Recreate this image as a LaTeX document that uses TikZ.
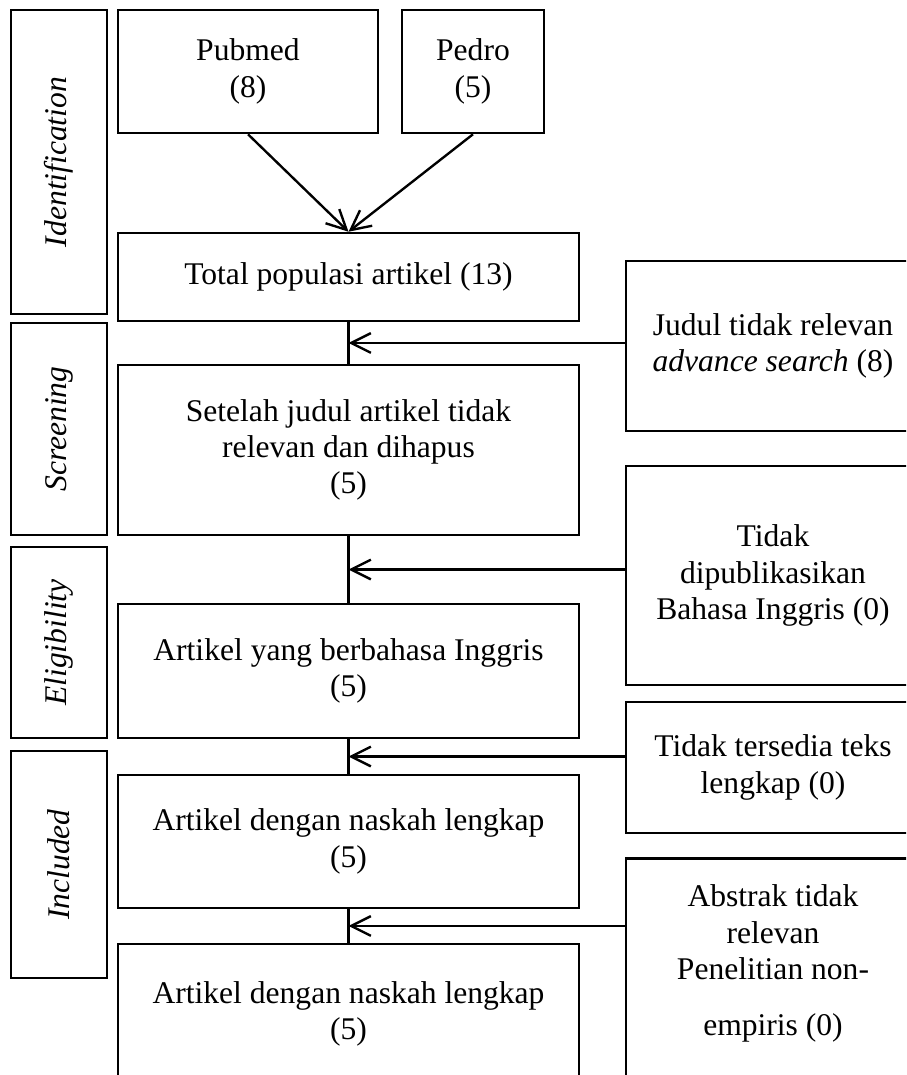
\documentclass[tikz,border=0pt]{standalone}
\usepackage{fontspec}
\setmainfont{Liberation Serif}
\usepackage{tikz}
\usetikzlibrary{arrows.meta,calc,positioning}
\tikzset{%
	stage/.style    = {draw, rectangle, line width=1pt, rotate=90, minimum height=36.5pt, font=\itshape\fontsize{12pt}{13.8pt}\selectfont}, % phase label
	source/.style   = {draw, rectangle, line width=1pt, minimum height=46.7pt, align=center}, % database
	process/.style  = {draw, rectangle, line width=1pt, minimum width=175.2pt, align=center}, % main flow
	excluded/.style = {draw, rectangle, line width=1pt, minimum width=111.7pt, align=center}, % removed
	link/.style     = {line width=0.9pt},
	arrow/.style    = {line width=0.9pt, -{Straight Barb[length=7.5pt, width=7.5pt]}},
}

\begin{document}
\begin{tikzpicture}[x=0.38pt, y=-0.38pt, every node/.style={font=\fontsize{12pt}{13.8pt}\selectfont}]
	\clip (0,0) rectangle (906,1075);
	% phases
	\node[stage, minimum width=115.5pt] (ident) at (59,162) {Identification};
	\node[stage, minimum width=80.6pt] (screen) at (59,429) {Screening};
	\node[stage, minimum width=72.6pt] (elig) at (59,642.5) {Eligibility};
	\node[stage, minimum width=86.3pt] (incl) at (59,864.5) {Included};
	
	% main column
	\node[source, minimum width=98.8pt] (pubmed) at (248,71.5) {Pubmed\\(8)};
	\node[source, minimum width=54pt] (pedro) at (473,71.5) {Pedro\\(5)};
	\node[process, minimum height=33.4pt] (total) at (348.5,277) {Total populasi artikel (13)};
	\node[process, minimum height=64.6pt] (setelah) at (348.5,450) {Setelah judul artikel tidak\\relevan dan dihapus\\(5)};
	\node[process, minimum height=50.9pt] (inggris) at (348.5,671) {Artikel yang berbahasa Inggris\\(5)};
	\node[process, minimum height=50.5pt] (naskah) at (348.5,841.5) {Artikel dengan naskah lengkap\\(5)};
	\node[process, minimum height=53.2pt] (akhir) at (348.5,1014) {Artikel dengan naskah lengkap\\(5)};
	
	% excluded
	\node[excluded, minimum height=64.6pt] (judul) at (773,346) {Judul tidak relevan\\\textit{advance search} (8)};
	\node[excluded, minimum height=83.2pt] (bahasa) at (773,575.5) {Tidak\\dipublikasikan\\Bahasa Inggris (0)};
	\node[excluded, minimum height=49.8pt] (teks) at (773,767.5) {Tidak tersedia teks\\lengkap (0)};
	\node[excluded, anchor=north, text height=64pt, text depth=20pt] (abstrak) at (773,857) {Abstrak tidak\\relevan\\Penelitian non-\\[7.5pt]empiris (0)};
	
	\draw[arrow] (pubmed.south) -- (total.north);
	\draw[arrow] (pedro.south) -- (total.north);
	
	\coordinate (m1) at ($(total.south)!0.5!(setelah.north)$);
	\coordinate (m2) at ($(setelah.south)!0.5!(inggris.north)$);
	\coordinate (m3) at ($(inggris.south)!0.5!(naskah.north)$);
	\coordinate (m4) at ($(naskah.south)!0.5!(akhir.north)$);
	\draw[link] (total) -- (setelah);
	\draw[link] (setelah) -- (inggris);
	\draw[link] (inggris) -- (naskah);
	\draw[link] (naskah) -- (akhir);
	\draw[arrow] (m1 -| judul.west) -- (m1);
	\draw[arrow] (m2 -| bahasa.west) -- (m2);
	\draw[arrow] (m3 -| teks.west) -- (m3);
	\draw[arrow] (m4 -| abstrak.west) -- (m4);
\end{tikzpicture}
\end{document}
